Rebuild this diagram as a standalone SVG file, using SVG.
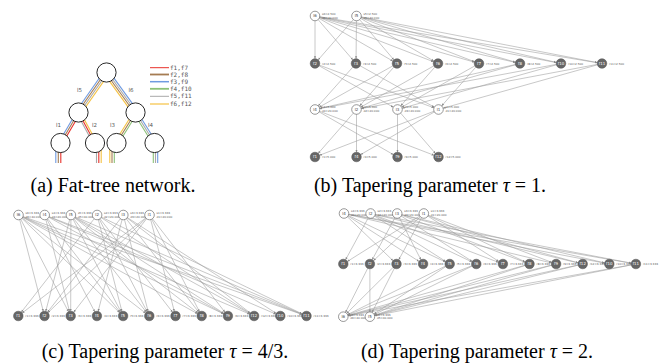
<svg xmlns="http://www.w3.org/2000/svg" width="659" height="364" viewBox="0 0 659 364">
<style>
.e{stroke:#9a9a9a;stroke-width:0.55;fill:none;marker-end:url(#ah)}
.ln{fill:#fff;stroke:#555;stroke-width:0.6}
.fl{fill:#666;stroke:#555;stroke-width:0.5}
.nm{font-family:"DejaVu Sans",sans-serif;font-size:4px;text-anchor:middle}
.nd{fill:#444}
.nw{fill:#fff}
.lb{font-family:"DejaVu Sans",sans-serif;font-size:2.8px;fill:#555}
.tn{fill:#fff;stroke:#111;stroke-width:0.9}
.tl{font-family:"DejaVu Sans",sans-serif;font-size:5.5px;fill:#555}
.lg{font-family:"DejaVu Sans Mono",monospace;font-size:6px;fill:#555}
.cap{font-family:"Liberation Serif","Times New Roman",serif;font-size:20px;fill:#000;text-anchor:middle}
.red{stroke:#e8302a}.brn{stroke:#a57c52}.blu{stroke:#6f9ae0}.grn{stroke:#8cc178}.gry{stroke:#a8a8a8}.yel{stroke:#f5c242}
</style>
<defs>
<marker id="ah" markerUnits="userSpaceOnUse" markerWidth="10" markerHeight="4" viewBox="0 -2 10 4" refX="7.3" refY="0" orient="auto"><path d="M0,-1.1 L2.6,0 L0,1.1z" fill="#888"/></marker>
</defs>

<!-- (a) fat tree -->
<g id="a-flows" stroke-width="1.1" fill="none">
<g transform="translate(78.5,112.5) rotate(-55)"><line x1="0" y1="-2.7" x2="48.8" y2="-2.7" class="blu"/><line x1="0" y1="-0.9" x2="48.8" y2="-0.9" class="brn"/><line x1="0" y1="0.9" x2="48.8" y2="0.9" class="gry"/><line x1="0" y1="2.7" x2="48.8" y2="2.7" class="yel"/></g>
<g transform="translate(135.5,112.5) rotate(-125.9)"><line x1="0" y1="2.7" x2="49.4" y2="2.7" class="blu"/><line x1="0" y1="0.9" x2="49.4" y2="0.9" class="gry"/><line x1="0" y1="-0.9" x2="49.4" y2="-0.9" class="brn"/><line x1="0" y1="-2.7" x2="49.4" y2="-2.7" class="yel"/></g>
<g transform="translate(60.5,143) rotate(-59.5)"><line x1="0" y1="-1.8" x2="35.4" y2="-1.8" class="blu"/><line x1="0" y1="0" x2="35.4" y2="0" class="brn"/><line x1="0" y1="1.8" x2="35.4" y2="1.8" class="red"/></g>
<g transform="translate(95,143) rotate(-118.4)"><line x1="0" y1="-1.8" x2="34.7" y2="-1.8" class="gry"/><line x1="0" y1="0" x2="34.7" y2="0" class="red"/><line x1="0" y1="1.8" x2="34.7" y2="1.8" class="yel"/></g>
<g transform="translate(116.5,143) rotate(-58.1)"><line x1="0" y1="-1.8" x2="35.9" y2="-1.8" class="yel"/><line x1="0" y1="0" x2="35.9" y2="0" class="brn"/><line x1="0" y1="1.8" x2="35.9" y2="1.8" class="grn"/></g>
<g transform="translate(154.5,143) rotate(-121.9)"><line x1="0" y1="1.8" x2="35.9" y2="1.8" class="blu"/><line x1="0" y1="0" x2="35.9" y2="0" class="gry"/><line x1="0" y1="-1.8" x2="35.9" y2="-1.8" class="grn"/></g>
<line x1="55.8" y1="148" x2="55.8" y2="163" class="blu"/><line x1="58.3" y1="148" x2="58.3" y2="163" class="brn"/><line x1="60.8" y1="148" x2="60.8" y2="163" class="red"/>
<line x1="96.5" y1="148" x2="96.5" y2="163" class="gry"/><line x1="98.8" y1="148" x2="98.8" y2="163" class="red"/><line x1="101.2" y1="148" x2="101.2" y2="163" class="yel"/>
<line x1="109.8" y1="148" x2="109.8" y2="163" class="yel"/><line x1="112" y1="148" x2="112" y2="163" class="brn"/><line x1="114.3" y1="148" x2="114.3" y2="163" class="grn"/>
<line x1="153.3" y1="148" x2="153.3" y2="163" class="grn"/><line x1="155.5" y1="148" x2="155.5" y2="163" class="gry"/><line x1="157.7" y1="148" x2="157.7" y2="163" class="blu"/>
</g>
<g id="a-root"><circle cx="106.5" cy="72.5" r="9.6" class="tn"/></g>
<g id="a-left"><circle cx="78.5" cy="112.5" r="9.6" class="tn"/></g>
<g id="a-right"><circle cx="135.5" cy="112.5" r="9.6" class="tn"/></g>
<g id="a-leaf1"><circle cx="60.5" cy="143" r="9.6" class="tn"/></g>
<g id="a-leaf2"><circle cx="95" cy="143" r="9.6" class="tn"/></g>
<g id="a-leaf3"><circle cx="116.5" cy="143" r="9.6" class="tn"/></g>
<g id="a-leaf4"><circle cx="154.5" cy="143" r="9.6" class="tn"/></g>
<g id="a-labels">
<text x="77" y="92" class="tl">l5</text><text x="128.5" y="92" class="tl">l6</text>
<text x="56" y="127" class="tl">l1</text><text x="92" y="127" class="tl">l2</text>
<text x="110" y="127" class="tl">l3</text><text x="148" y="127" class="tl">l4</text>
</g>
<g id="a-legend" fill="none">
<line x1="150" y1="67.7" x2="169" y2="67.7" class="red" stroke-width="1"/><text x="170" y="69.7" class="lg">f1,f7</text>
<line x1="150" y1="74.5" x2="169" y2="74.5" class="brn" stroke-width="1.8"/><text x="170" y="76.5" class="lg">f2,f8</text>
<line x1="150" y1="81.7" x2="169" y2="81.7" class="blu" stroke-width="1.5"/><text x="170" y="83.7" class="lg">f3,f9</text>
<line x1="150" y1="88.8" x2="169" y2="88.8" class="grn" stroke-width="1.8"/><text x="170" y="90.8" class="lg">f4,f10</text>
<line x1="150" y1="96.3" x2="169" y2="96.3" class="gry" stroke-width="1"/><text x="170" y="98.3" class="lg">f5,f11</text>
<line x1="150" y1="104" x2="169" y2="104" class="yel" stroke-width="1.2"/><text x="170" y="106" class="lg">f6,f12</text>
</g>

<!-- (b) -->
<g id="b-edges">
<line x1="315" y1="16" x2="315" y2="63.5" class="e"/><line x1="315" y1="16" x2="356" y2="63.5" class="e"/><line x1="315" y1="16" x2="397" y2="63.5" class="e"/><line x1="315" y1="16" x2="438" y2="63.5" class="e"/><line x1="315" y1="16" x2="479" y2="63.5" class="e"/><line x1="315" y1="16" x2="520" y2="63.5" class="e"/><line x1="315" y1="16" x2="561" y2="63.5" class="e"/><line x1="315" y1="16" x2="602" y2="63.5" class="e"/>
<line x1="356.5" y1="16" x2="315" y2="63.5" class="e"/><line x1="356.5" y1="16" x2="356" y2="63.5" class="e"/><line x1="356.5" y1="16" x2="397" y2="63.5" class="e"/><line x1="356.5" y1="16" x2="438" y2="63.5" class="e"/><line x1="356.5" y1="16" x2="479" y2="63.5" class="e"/><line x1="356.5" y1="16" x2="520" y2="63.5" class="e"/><line x1="356.5" y1="16" x2="561" y2="63.5" class="e"/><line x1="356.5" y1="16" x2="602" y2="63.5" class="e"/>
<line x1="315" y1="63.5" x2="438.5" y2="109.5" class="e"/><line x1="315" y1="63.5" x2="397.5" y2="109.5" class="e"/>
<line x1="356" y1="63.5" x2="438.5" y2="109.5" class="e"/><line x1="356" y1="63.5" x2="315" y2="109.5" class="e"/>
<line x1="397" y1="63.5" x2="356.5" y2="109.5" class="e"/><line x1="397" y1="63.5" x2="315" y2="109.5" class="e"/>
<line x1="438" y1="63.5" x2="356.5" y2="109.5" class="e"/><line x1="438" y1="63.5" x2="397.5" y2="109.5" class="e"/>
<line x1="479" y1="63.5" x2="438.5" y2="109.5" class="e"/><line x1="479" y1="63.5" x2="397.5" y2="109.5" class="e"/>
<line x1="520" y1="63.5" x2="356.5" y2="109.5" class="e"/><line x1="520" y1="63.5" x2="315" y2="109.5" class="e"/>
<line x1="561" y1="63.5" x2="397.5" y2="109.5" class="e"/><line x1="561" y1="63.5" x2="315" y2="109.5" class="e"/>
<line x1="602" y1="63.5" x2="356.5" y2="109.5" class="e"/><line x1="602" y1="63.5" x2="438.5" y2="109.5" class="e"/>
<line x1="356.5" y1="109.5" x2="315" y2="157" class="e"/><line x1="438.5" y1="109.5" x2="315" y2="157" class="e"/>
<line x1="356.5" y1="109.5" x2="356.5" y2="157" class="e"/><line x1="438.5" y1="109.5" x2="356.5" y2="157" class="e"/>
<line x1="397.5" y1="109.5" x2="397.5" y2="157" class="e"/><line x1="315" y1="109.5" x2="397.5" y2="157" class="e"/>
<line x1="397.5" y1="109.5" x2="438.5" y2="157" class="e"/><line x1="315" y1="109.5" x2="438.5" y2="157" class="e"/>
</g>
<g id="b-l6"><circle cx="315" cy="16" r="4.8" class="ln"/><text x="315" y="17.4" class="nm nd">l6</text><text x="322" y="14.8" class="lb">s6=2.500</text><text x="322" y="18.6" class="lb">d6=40.000</text></g>
<g id="b-l5"><circle cx="356.5" cy="16" r="4.8" class="ln"/><text x="356.5" y="17.4" class="nm nd">l5</text><text x="363.5" y="14.8" class="lb">s5=2.500</text><text x="363.5" y="18.6" class="lb">d5=40.000</text></g>
<g id="b-f2"><circle cx="315" cy="63.5" r="4.8" class="fl"/><text x="315" y="64.9" class="nm nw">f2</text><text x="322" y="64.5" class="lb">r2=2.500</text></g>
<g id="b-f3"><circle cx="356" cy="63.5" r="4.8" class="fl"/><text x="356" y="64.9" class="nm nw">f3</text><text x="363" y="64.5" class="lb">r3=2.500</text></g>
<g id="b-f5"><circle cx="397" cy="63.5" r="4.8" class="fl"/><text x="397" y="64.9" class="nm nw">f5</text><text x="404" y="64.5" class="lb">r5=2.500</text></g>
<g id="b-f6"><circle cx="438" cy="63.5" r="4.8" class="fl"/><text x="438" y="64.9" class="nm nw">f6</text><text x="445" y="64.5" class="lb">r6=2.500</text></g>
<g id="b-f7"><circle cx="479" cy="63.5" r="4.8" class="fl"/><text x="479" y="64.9" class="nm nw">f7</text><text x="486" y="64.5" class="lb">r7=2.500</text></g>
<g id="b-f8"><circle cx="520" cy="63.5" r="4.8" class="fl"/><text x="520" y="64.9" class="nm nw">f8</text><text x="527" y="64.5" class="lb">r8=2.500</text></g>
<g id="b-f10"><circle cx="561" cy="63.5" r="4.8" class="fl"/><text x="561" y="64.9" class="nm nw">f10</text><text x="568" y="64.5" class="lb">r10=2.500</text></g>
<g id="b-f11"><circle cx="602" cy="63.5" r="4.8" class="fl"/><text x="602" y="64.9" class="nm nw">f11</text><text x="609" y="64.5" class="lb">r11=2.500</text></g>
<g id="b-l4"><circle cx="315" cy="109.5" r="4.8" class="ln"/><text x="315" y="110.9" class="nm nd">l4</text><text x="322" y="108.3" class="lb">s4=5.000</text><text x="322" y="112.1" class="lb">d4=20.000</text></g>
<g id="b-l2"><circle cx="356.5" cy="109.5" r="4.8" class="ln"/><text x="356.5" y="110.9" class="nm nd">l2</text><text x="363.5" y="108.3" class="lb">s2=5.000</text><text x="363.5" y="112.1" class="lb">d2=20.000</text></g>
<g id="b-l3"><circle cx="397.5" cy="109.5" r="4.8" class="ln"/><text x="397.5" y="110.9" class="nm nd">l3</text><text x="404.5" y="108.3" class="lb">s3=5.000</text><text x="404.5" y="112.1" class="lb">d3=20.000</text></g>
<g id="b-l1"><circle cx="438.5" cy="109.5" r="4.8" class="ln"/><text x="438.5" y="110.9" class="nm nd">l1</text><text x="445.5" y="108.3" class="lb">s1=5.000</text><text x="445.5" y="112.1" class="lb">d1=20.000</text></g>
<g id="b-f1"><circle cx="315" cy="157" r="4.8" class="fl"/><text x="315" y="158.4" class="nm nw">f1</text><text x="322" y="158" class="lb">r1=5.000</text></g>
<g id="b-f4"><circle cx="356.5" cy="157" r="4.8" class="fl"/><text x="356.5" y="158.4" class="nm nw">f4</text><text x="363.5" y="158" class="lb">r4=5.000</text></g>
<g id="b-f9"><circle cx="397.5" cy="157" r="4.8" class="fl"/><text x="397.5" y="158.4" class="nm nw">f9</text><text x="404.5" y="158" class="lb">r9=5.000</text></g>
<g id="b-f12"><circle cx="438.5" cy="157" r="4.8" class="fl"/><text x="438.5" y="158.4" class="nm nw">f12</text><text x="445.5" y="158" class="lb">r12=5.000</text></g>

<!-- (c) -->
<g id="c-edges">
<line x1="149.5" y1="215" x2="18.3" y2="316" class="e"/><line x1="97.1" y1="215" x2="18.3" y2="316" class="e"/>
<line x1="149.5" y1="215" x2="44.5" y2="316" class="e"/><line x1="70.9" y1="215" x2="44.5" y2="316" class="e"/><line x1="18.5" y1="215" x2="44.5" y2="316" class="e"/><line x1="123.3" y1="215" x2="44.5" y2="316" class="e"/>
<line x1="149.5" y1="215" x2="70.7" y2="316" class="e"/><line x1="70.9" y1="215" x2="70.7" y2="316" class="e"/><line x1="18.5" y1="215" x2="70.7" y2="316" class="e"/><line x1="44.7" y1="215" x2="70.7" y2="316" class="e"/>
<line x1="123.3" y1="215" x2="96.9" y2="316" class="e"/><line x1="44.7" y1="215" x2="96.9" y2="316" class="e"/>
<line x1="97.1" y1="215" x2="123.1" y2="316" class="e"/><line x1="70.9" y1="215" x2="123.1" y2="316" class="e"/><line x1="18.5" y1="215" x2="123.1" y2="316" class="e"/><line x1="44.7" y1="215" x2="123.1" y2="316" class="e"/>
<line x1="97.1" y1="215" x2="149.3" y2="316" class="e"/><line x1="70.9" y1="215" x2="149.3" y2="316" class="e"/><line x1="18.5" y1="215" x2="149.3" y2="316" class="e"/><line x1="123.3" y1="215" x2="149.3" y2="316" class="e"/>
<line x1="149.5" y1="215" x2="175.5" y2="316" class="e"/><line x1="97.1" y1="215" x2="175.5" y2="316" class="e"/>
<line x1="149.5" y1="215" x2="201.7" y2="316" class="e"/><line x1="70.9" y1="215" x2="201.7" y2="316" class="e"/><line x1="18.5" y1="215" x2="201.7" y2="316" class="e"/><line x1="123.3" y1="215" x2="201.7" y2="316" class="e"/>
<line x1="149.5" y1="215" x2="227.9" y2="316" class="e"/><line x1="70.9" y1="215" x2="227.9" y2="316" class="e"/><line x1="18.5" y1="215" x2="227.9" y2="316" class="e"/><line x1="44.7" y1="215" x2="227.9" y2="316" class="e"/>
<line x1="97.1" y1="215" x2="254.1" y2="316" class="e"/><line x1="70.9" y1="215" x2="254.1" y2="316" class="e"/><line x1="18.5" y1="215" x2="254.1" y2="316" class="e"/><line x1="123.3" y1="215" x2="254.1" y2="316" class="e"/>
<line x1="123.3" y1="215" x2="280.3" y2="316" class="e"/><line x1="44.7" y1="215" x2="280.3" y2="316" class="e"/>
<line x1="97.1" y1="215" x2="306.5" y2="316" class="e"/><line x1="70.9" y1="215" x2="306.5" y2="316" class="e"/><line x1="18.5" y1="215" x2="306.5" y2="316" class="e"/><line x1="44.7" y1="215" x2="306.5" y2="316" class="e"/>
</g>
<g id="c-l6"><circle cx="18.5" cy="215" r="4.8" class="ln"/><text x="18.5" y="216.4" class="nm nd">l6</text><text x="25.5" y="213.8" class="lb">s6=3.333</text><text x="25.5" y="217.6" class="lb">d6=40.000</text></g>
<g id="c-l4"><circle cx="44.7" cy="215" r="4.8" class="ln"/><text x="44.7" y="216.4" class="nm nd">l4</text><text x="51.7" y="213.8" class="lb">s4=3.333</text><text x="51.7" y="217.6" class="lb">d4=20.000</text></g>
<g id="c-l5"><circle cx="70.9" cy="215" r="4.8" class="ln"/><text x="70.9" y="216.4" class="nm nd">l5</text><text x="77.9" y="213.8" class="lb">s5=3.333</text><text x="77.9" y="217.6" class="lb">d5=40.000</text></g>
<g id="c-l2"><circle cx="97.1" cy="215" r="4.8" class="ln"/><text x="97.1" y="216.4" class="nm nd">l2</text><text x="104.1" y="213.8" class="lb">s2=3.333</text><text x="104.1" y="217.6" class="lb">d2=20.000</text></g>
<g id="c-l3"><circle cx="123.3" cy="215" r="4.8" class="ln"/><text x="123.3" y="216.4" class="nm nd">l3</text><text x="130.3" y="213.8" class="lb">s3=3.333</text><text x="130.3" y="217.6" class="lb">d3=20.000</text></g>
<g id="c-l1"><circle cx="149.5" cy="215" r="4.8" class="ln"/><text x="149.5" y="216.4" class="nm nd">l1</text><text x="156.5" y="213.8" class="lb">s1=3.333</text><text x="156.5" y="217.6" class="lb">d1=20.000</text></g>
<g id="c-f1"><circle cx="18.3" cy="316" r="4.8" class="fl"/><text x="18.3" y="317.4" class="nm nw">f1</text><text x="25.3" y="317" class="lb">r1=3.333</text></g>
<g id="c-f2"><circle cx="44.5" cy="316" r="4.8" class="fl"/><text x="44.5" y="317.4" class="nm nw">f2</text><text x="51.5" y="317" class="lb">r2=3.333</text></g>
<g id="c-f3"><circle cx="70.7" cy="316" r="4.8" class="fl"/><text x="70.7" y="317.4" class="nm nw">f3</text><text x="77.7" y="317" class="lb">r3=3.333</text></g>
<g id="c-f4"><circle cx="96.9" cy="316" r="4.8" class="fl"/><text x="96.9" y="317.4" class="nm nw">f4</text><text x="103.9" y="317" class="lb">r4=3.333</text></g>
<g id="c-f5"><circle cx="123.1" cy="316" r="4.8" class="fl"/><text x="123.1" y="317.4" class="nm nw">f5</text><text x="130.1" y="317" class="lb">r5=3.333</text></g>
<g id="c-f6"><circle cx="149.3" cy="316" r="4.8" class="fl"/><text x="149.3" y="317.4" class="nm nw">f6</text><text x="156.3" y="317" class="lb">r6=3.333</text></g>
<g id="c-f7"><circle cx="175.5" cy="316" r="4.8" class="fl"/><text x="175.5" y="317.4" class="nm nw">f7</text><text x="182.5" y="317" class="lb">r7=3.333</text></g>
<g id="c-f8"><circle cx="201.7" cy="316" r="4.8" class="fl"/><text x="201.7" y="317.4" class="nm nw">f8</text><text x="208.7" y="317" class="lb">r8=3.333</text></g>
<g id="c-f9"><circle cx="227.9" cy="316" r="4.8" class="fl"/><text x="227.9" y="317.4" class="nm nw">f9</text><text x="234.9" y="317" class="lb">r9=3.333</text></g>
<g id="c-f12"><circle cx="254.1" cy="316" r="4.8" class="fl"/><text x="254.1" y="317.4" class="nm nw">f12</text><text x="261.1" y="317" class="lb">r12=3.333</text></g>
<g id="c-f10"><circle cx="280.3" cy="316" r="4.8" class="fl"/><text x="280.3" y="317.4" class="nm nw">f10</text><text x="287.3" y="317" class="lb">r10=3.333</text></g>
<g id="c-f11"><circle cx="306.5" cy="316" r="4.8" class="fl"/><text x="306.5" y="317.4" class="nm nw">f11</text><text x="313.5" y="317" class="lb">r11=3.333</text></g>

<!-- (d) -->
<g id="d-edges">
<line x1="423.8" y1="213.5" x2="343.3" y2="264" class="e"/><line x1="370.6" y1="213.5" x2="343.3" y2="264" class="e"/>
<line x1="423.8" y1="213.5" x2="369.9" y2="264" class="e"/><line x1="397.2" y1="213.5" x2="369.9" y2="264" class="e"/>
<line x1="423.8" y1="213.5" x2="396.5" y2="264" class="e"/><line x1="344" y1="213.5" x2="396.5" y2="264" class="e"/>
<line x1="397.2" y1="213.5" x2="423.1" y2="264" class="e"/><line x1="344" y1="213.5" x2="423.1" y2="264" class="e"/>
<line x1="370.6" y1="213.5" x2="449.7" y2="264" class="e"/><line x1="344" y1="213.5" x2="449.7" y2="264" class="e"/>
<line x1="370.6" y1="213.5" x2="476.3" y2="264" class="e"/><line x1="397.2" y1="213.5" x2="476.3" y2="264" class="e"/>
<line x1="423.8" y1="213.5" x2="502.9" y2="264" class="e"/><line x1="370.6" y1="213.5" x2="502.9" y2="264" class="e"/>
<line x1="423.8" y1="213.5" x2="529.5" y2="264" class="e"/><line x1="397.2" y1="213.5" x2="529.5" y2="264" class="e"/>
<line x1="423.8" y1="213.5" x2="556.1" y2="264" class="e"/><line x1="344" y1="213.5" x2="556.1" y2="264" class="e"/>
<line x1="370.6" y1="213.5" x2="582.7" y2="264" class="e"/><line x1="397.2" y1="213.5" x2="582.7" y2="264" class="e"/>
<line x1="397.2" y1="213.5" x2="609.3" y2="264" class="e"/><line x1="344" y1="213.5" x2="609.3" y2="264" class="e"/>
<line x1="370.6" y1="213.5" x2="635.9" y2="264" class="e"/><line x1="344" y1="213.5" x2="635.9" y2="264" class="e"/>
<line x1="369.9" y1="264" x2="343.3" y2="316.7" class="e"/><line x1="369.9" y1="264" x2="369.9" y2="316.7" class="e"/>
<line x1="396.5" y1="264" x2="343.3" y2="316.7" class="e"/><line x1="396.5" y1="264" x2="369.9" y2="316.7" class="e"/>
<line x1="449.7" y1="264" x2="343.3" y2="316.7" class="e"/><line x1="449.7" y1="264" x2="369.9" y2="316.7" class="e"/>
<line x1="476.3" y1="264" x2="343.3" y2="316.7" class="e"/><line x1="476.3" y1="264" x2="369.9" y2="316.7" class="e"/>
<line x1="529.5" y1="264" x2="343.3" y2="316.7" class="e"/><line x1="529.5" y1="264" x2="369.9" y2="316.7" class="e"/>
<line x1="556.1" y1="264" x2="343.3" y2="316.7" class="e"/><line x1="556.1" y1="264" x2="369.9" y2="316.7" class="e"/>
<line x1="582.7" y1="264" x2="343.3" y2="316.7" class="e"/><line x1="582.7" y1="264" x2="369.9" y2="316.7" class="e"/>
<line x1="635.9" y1="264" x2="343.3" y2="316.7" class="e"/><line x1="635.9" y1="264" x2="369.9" y2="316.7" class="e"/>
</g>
<g id="d-l4"><circle cx="344" cy="213.5" r="4.8" class="ln"/><text x="344" y="214.9" class="nm nd">l4</text><text x="351" y="212.3" class="lb">s4=3.333</text><text x="351" y="216.1" class="lb">d4=20.000</text></g>
<g id="d-l2"><circle cx="370.6" cy="213.5" r="4.8" class="ln"/><text x="370.6" y="214.9" class="nm nd">l2</text><text x="377.6" y="212.3" class="lb">s2=3.333</text><text x="377.6" y="216.1" class="lb">d2=20.000</text></g>
<g id="d-l3"><circle cx="397.2" cy="213.5" r="4.8" class="ln"/><text x="397.2" y="214.9" class="nm nd">l3</text><text x="404.2" y="212.3" class="lb">s3=3.333</text><text x="404.2" y="216.1" class="lb">d3=20.000</text></g>
<g id="d-l1"><circle cx="423.8" cy="213.5" r="4.8" class="ln"/><text x="423.8" y="214.9" class="nm nd">l1</text><text x="430.8" y="212.3" class="lb">s1=3.333</text><text x="430.8" y="216.1" class="lb">d1=20.000</text></g>
<g id="d-f1"><circle cx="343.3" cy="264" r="4.8" class="fl"/><text x="343.3" y="265.4" class="nm nw">f1</text><text x="350.3" y="265" class="lb">r1=3.333</text></g>
<g id="d-f2"><circle cx="369.9" cy="264" r="4.8" class="fl"/><text x="369.9" y="265.4" class="nm nw">f2</text><text x="376.9" y="265" class="lb">r2=3.333</text></g>
<g id="d-f3"><circle cx="396.5" cy="264" r="4.8" class="fl"/><text x="396.5" y="265.4" class="nm nw">f3</text><text x="403.5" y="265" class="lb">r3=3.333</text></g>
<g id="d-f4"><circle cx="423.1" cy="264" r="4.8" class="fl"/><text x="423.1" y="265.4" class="nm nw">f4</text><text x="430.1" y="265" class="lb">r4=3.333</text></g>
<g id="d-f5"><circle cx="449.7" cy="264" r="4.8" class="fl"/><text x="449.7" y="265.4" class="nm nw">f5</text><text x="456.7" y="265" class="lb">r5=3.333</text></g>
<g id="d-f6"><circle cx="476.3" cy="264" r="4.8" class="fl"/><text x="476.3" y="265.4" class="nm nw">f6</text><text x="483.3" y="265" class="lb">r6=3.333</text></g>
<g id="d-f7"><circle cx="502.9" cy="264" r="4.8" class="fl"/><text x="502.9" y="265.4" class="nm nw">f7</text><text x="509.9" y="265" class="lb">r7=3.333</text></g>
<g id="d-f8"><circle cx="529.5" cy="264" r="4.8" class="fl"/><text x="529.5" y="265.4" class="nm nw">f8</text><text x="536.5" y="265" class="lb">r8=3.333</text></g>
<g id="d-f9"><circle cx="556.1" cy="264" r="4.8" class="fl"/><text x="556.1" y="265.4" class="nm nw">f9</text><text x="563.1" y="265" class="lb">r9=3.333</text></g>
<g id="d-f12"><circle cx="582.7" cy="264" r="4.8" class="fl"/><text x="582.7" y="265.4" class="nm nw">f12</text><text x="589.7" y="265" class="lb">r12=3.333</text></g>
<g id="d-f10"><circle cx="609.3" cy="264" r="4.8" class="fl"/><text x="609.3" y="265.4" class="nm nw">f10</text><text x="616.3" y="265" class="lb">r10=3.333</text></g>
<g id="d-f11"><circle cx="635.9" cy="264" r="4.8" class="fl"/><text x="635.9" y="265.4" class="nm nw">f11</text><text x="642.9" y="265" class="lb">r11=3.333</text></g>
<g id="d-l6"><circle cx="343.3" cy="316.7" r="4.8" class="ln"/><text x="343.3" y="318.1" class="nm nd">l6</text><text x="350.3" y="315.5" class="lb">s6=3.333</text><text x="350.3" y="319.3" class="lb">d6=40.000</text></g>
<g id="d-l5"><circle cx="369.9" cy="316.7" r="4.8" class="ln"/><text x="369.9" y="318.1" class="nm nd">l5</text><text x="376.9" y="315.5" class="lb">s5=3.333</text><text x="376.9" y="319.3" class="lb">d5=40.000</text></g>

<!-- captions -->
<g id="captions">
<text x="113" y="192" class="cap">(a) Fat-tree network.</text>
<text x="430" y="192" class="cap">(b) Tapering parameter <tspan font-style="italic">τ</tspan> = 1.</text>
<text x="165" y="358" class="cap">(c) Tapering parameter <tspan font-style="italic">τ</tspan> = 4/3.</text>
<text x="477" y="358" class="cap">(d) Tapering parameter <tspan font-style="italic">τ</tspan> = 2.</text>
</g>
</svg>
